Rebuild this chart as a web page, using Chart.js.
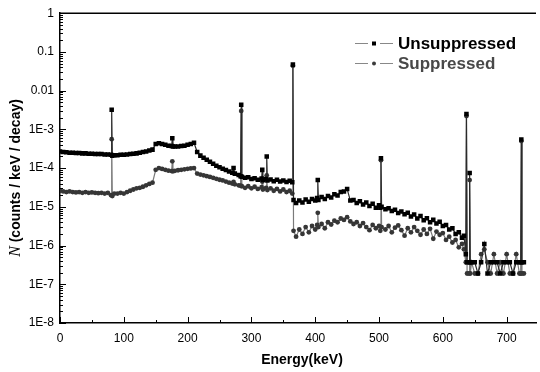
<!DOCTYPE html>
<html>
<head>
<meta charset="utf-8">
<script src="https://cdn.jsdelivr.net/npm/chart.js@4.4.1/dist/chart.umd.min.js"></script>
<style>
  html, body { margin:0; padding:0; background:#fff; }
  #wrap { width:540px; height:372px; position:relative; }
</style>
</head>
<body>
<div id="wrap"><canvas id="spec"></canvas></div>
<script>
// ---------- data ----------
const energy = [
  0,5,10,15,20,25,30,35,40,45,50,55,60,65,70,75,80,81,82,85,90,95,100,
  105,110,115,120,125,130,135,140,145,150,155,160,165,170,175,176,177,180,185,190,195,200,205,210,
  215,220,225,230,235,240,245,250,255,260,265,270,272,274,280,283,284,285,290,295,300,305,310,
  316,317,318,323,324,325,330,335,340,345,350,355,360,364,365,366,370,375,380,385,390,395,400,
  403,404,405,410,415,420,425,430,435,440,445,450,455,460,465,470,475,480,485,490,495,500,
  502,503,504,510,515,520,525,530,535,540,545,550,555,560,565,570,575,580,585,590,595,600,
  605,610,615,620,625,630,633,636,637,638,641,642,643,645,650,655,660,665,670,675,680,
  685,690,695,700,705,710,715,720,722,723,724,727
];
const unsuppressed = [
  2.7e-4,2.6e-4,2.55e-4,2.5e-4,2.5e-4,2.45e-4,2.45e-4,2.4e-4,2.4e-4,2.35e-4,2.35e-4,2.3e-4,2.3e-4,2.3e-4,2.25e-4,2.25e-4,2.2e-4,3.2e-3,2.1e-4,2.15e-4,2.15e-4,2.2e-4,2.2e-4,
  2.25e-4,2.3e-4,2.35e-4,2.4e-4,2.5e-4,2.6e-4,2.7e-4,2.85e-4,3.0e-4,4.2e-4,4.4e-4,4.2e-4,4.0e-4,3.8e-4,3.7e-4,5.9e-4,3.6e-4,3.6e-4,3.6e-4,3.7e-4,3.8e-4,4.0e-4,4.2e-4,4.5e-4,
  2.6e-4,2.1e-4,1.85e-4,1.65e-4,1.45e-4,1.3e-4,1.15e-4,1.05e-4,9.6e-5,8.9e-5,8.2e-5,7.6e-5,1.0e-4,7.2e-5,6.6e-5,6.2e-5,4.3e-3,6.0e-5,5.6e-5,5.8e-5,5.2e-5,5.5e-5,5.0e-5,
  5.4e-5,9.0e-5,4.9e-5,5.2e-5,2.0e-4,4.8e-5,5.1e-5,4.6e-5,5.0e-5,4.5e-5,4.8e-5,4.4e-5,4.7e-5,4.3e-5,4.7e-2,1.5e-5,1.25e-5,1.45e-5,1.3e-5,1.55e-5,1.35e-5,1.6e-5,1.45e-5,
  1.7e-5,4.9e-5,1.5e-5,1.8e-5,1.6e-5,1.9e-5,1.75e-5,2.1e-5,1.95e-5,2.4e-5,2.5e-5,2.9e-5,1.45e-5,1.5e-5,1.25e-5,1.4e-5,1.15e-5,1.3e-5,1.05e-5,1.2e-5,9.5e-6,1.1e-5,
  9.5e-6,1.8e-4,1.0e-5,8.6e-6,9.2e-6,7.8e-6,8.4e-6,6.9e-6,7.6e-6,6.4e-6,7.0e-6,5.6e-6,6.3e-6,5.0e-6,5.8e-6,4.5e-6,5.1e-6,4.0e-6,4.6e-6,3.7e-6,4.1e-6,3.2e-6,
  3.4e-6,2.6e-6,2.8e-6,2.0e-6,2.2e-6,1.6e-6,1.8e-6,6e-7,2.5e-3,3.7e-7,3.7e-7,7.5e-5,3.7e-7,3.7e-7,3.7e-7,1.9e-7,3.7e-7,1.1e-6,1.9e-7,3.7e-7,3.7e-7,
  3.7e-7,1.9e-7,3.7e-7,3.7e-7,3.7e-7,1.9e-7,3.7e-7,3.7e-7,3.7e-7,5.5e-4,3.7e-7,3.7e-7
];
const suppressed = [
  2.6e-5,2.5e-5,2.4e-5,2.5e-5,2.4e-5,2.35e-5,2.4e-5,2.3e-5,2.4e-5,2.3e-5,2.35e-5,2.3e-5,2.25e-5,2.3e-5,2.2e-5,2.3e-5,2.0e-5,5.6e-4,1.9e-5,2.2e-5,2.2e-5,2.3e-5,2.2e-5,
  2.4e-5,2.6e-5,2.8e-5,3.0e-5,3.1e-5,3.3e-5,3.6e-5,3.9e-5,4.2e-5,9.0e-5,1.0e-4,9.5e-5,9.0e-5,8.6e-5,8.4e-5,1.5e-4,8.3e-5,8.5e-5,8.8e-5,9.0e-5,9.3e-5,9.6e-5,9.8e-5,1.0e-4,
  7.2e-5,6.8e-5,6.5e-5,6.2e-5,5.9e-5,5.6e-5,5.3e-5,5.0e-5,4.8e-5,4.5e-5,4.2e-5,4.0e-5,4.4e-5,3.8e-5,3.6e-5,3.5e-5,3.0e-3,3.4e-5,3.1e-5,3.4e-5,3.0e-5,3.3e-5,2.9e-5,
  3.2e-5,4.5e-5,2.8e-5,3.1e-5,6.5e-5,2.7e-5,3.0e-5,2.6e-5,2.9e-5,2.5e-5,2.8e-5,2.4e-5,2.6e-5,2.2e-5,4.4e-2,2.4e-6,1.7e-6,2.6e-6,2.0e-6,3.0e-6,2.2e-6,3.2e-6,2.6e-6,
  3.4e-6,7.0e-6,3.0e-6,3.6e-6,2.8e-6,4.0e-6,3.5e-6,4.4e-6,4.0e-6,5.0e-6,4.6e-6,5.4e-6,4.2e-6,3.6e-6,4.0e-6,3.2e-6,3.8e-6,3.0e-6,2.5e-6,3.4e-6,2.8e-6,3.2e-6,
  2.4e-6,1.6e-4,3.0e-6,2.6e-6,3.2e-6,2.2e-6,2.9e-6,3.3e-6,2.5e-6,1.8e-6,2.8e-6,2.2e-6,3.0e-6,2.4e-6,1.9e-6,2.6e-6,2.0e-6,2.7e-6,1.5e-6,2.3e-6,1.9e-6,2.1e-6,
  1.4e-6,1.7e-6,1.2e-6,1.4e-6,9e-7,1.1e-6,8e-7,3.7e-7,2.2e-3,1.9e-7,1.9e-7,4.9e-5,1.9e-7,3.7e-7,1.9e-7,1.9e-7,6e-7,8e-7,3.7e-7,1.9e-7,6e-7,
  1.9e-7,3.7e-7,1.9e-7,6e-7,1.9e-7,1.9e-7,6e-7,1.9e-7,1.9e-7,5.0e-4,1.9e-7,1.9e-7
];
const xTicks = [0,100,200,300,400,500,600,700];
const xMinorTicks = [50,150,250,350,450,550,650];
const yTicks = [1e-8,1e-7,1e-6,1e-5,1e-4,1e-3,0.01,0.1,1];
const yLabels = ['1E-8','1E-7','1E-6','1E-5','1E-4','1E-3','0.01','0.1','1'];
const seriesNames = ['Unsuppressed','Suppressed'];

const FONT = '"Liberation Sans", Arial, Helvetica, sans-serif';

const pts = arr => energy.map((e, i) => ({ x: e, y: arr[i] }));

// ---------- extra drawing: frame top, ticks, titles, legend ----------
const decor = {
  id: 'decor',
  afterDraw(chart){
    const ctx = chart.ctx;
    const a = chart.chartArea;
    const xs = chart.scales.x, ys = chart.scales.y;
    ctx.save();
    ctx.strokeStyle = '#000';
    ctx.lineWidth = 1.5;
    ctx.beginPath();
    ctx.moveTo(a.left, a.top); ctx.lineTo(a.right, a.top);
    ctx.stroke();

    // ticks, pointing inwards
    ctx.lineWidth = 1;
    ctx.beginPath();
    xTicks.forEach(v => { const px = Math.round(xs.getPixelForValue(v)) + 0.5; ctx.moveTo(px, a.bottom); ctx.lineTo(px, a.bottom - 6); });
    xMinorTicks.forEach(v => { const px = Math.round(xs.getPixelForValue(v)) + 0.5; ctx.moveTo(px, a.bottom); ctx.lineTo(px, a.bottom - 3); });
    for (let d = -8; d <= 0; d++){
      const py = Math.round(ys.getPixelForValue(Math.pow(10, d))) + 0.5;
      ctx.moveTo(a.left, py); ctx.lineTo(a.left + 6, py);
      if (d < 0){
        for (let m = 2; m <= 9; m++){
          const pm = Math.round(ys.getPixelForValue(m * Math.pow(10, d))) + 0.5;
          ctx.moveTo(a.left, pm); ctx.lineTo(a.left + 3, pm);
        }
      }
    }
    ctx.stroke();

    // x title
    ctx.fillStyle = '#000';
    ctx.font = 'bold 14px ' + FONT;
    ctx.textAlign = 'center';
    ctx.textBaseline = 'middle';
    ctx.fillText('Energy(keV)', 302, 360);

    // y title: italic N + bold rest
    ctx.save();
    ctx.translate(16, 178);
    ctx.rotate(-Math.PI / 2);
    const nFont = 'italic 16px "Liberation Serif", "Times New Roman", serif';
    const restFont = 'bold 14px ' + FONT;
    const rest = ' (counts / keV / decay)';
    ctx.font = nFont; const wN = ctx.measureText('N').width;
    ctx.font = restFont; const wR = ctx.measureText(rest).width;
    let sx = -(wN + wR) / 2;
    ctx.textAlign = 'left';
    ctx.font = nFont; ctx.fillText('N', sx, 0);
    ctx.font = restFont; ctx.fillText(rest, sx + wN, 0);
    ctx.restore();

    // legend
    const rows = [
      { y: 43, text: seriesNames[0], color: '#000', marker: 'rect' },
      { y: 63, text: seriesNames[1], color: '#484848', marker: 'circle' }
    ];
    rows.forEach(r => {
      ctx.strokeStyle = '#888';
      ctx.lineWidth = 1;
      ctx.beginPath();
      ctx.moveTo(355, r.y + 0.5); ctx.lineTo(368, r.y + 0.5);
      ctx.moveTo(380, r.y + 0.5); ctx.lineTo(393, r.y + 0.5);
      ctx.stroke();
      ctx.fillStyle = r.marker === 'rect' ? '#000' : '#3c3c3c';
      if (r.marker === 'rect') ctx.fillRect(372, r.y - 1.5, 4, 4);
      else { ctx.beginPath(); ctx.arc(374, r.y + 0.5, 2, 0, Math.PI * 2); ctx.fill(); }
      ctx.fillStyle = r.color;
      ctx.font = 'bold 17px ' + FONT;
      ctx.textAlign = 'left';
      ctx.textBaseline = 'middle';
      ctx.fillText(r.text, 398, r.y + 1);
    });
    ctx.restore();
  }
};

new Chart(document.getElementById('spec'), {
  type: 'line',
  data: {
    datasets: [
      { label: seriesNames[0], data: pts(unsuppressed), borderColor: '#2a2a2a', borderWidth: 1.2,
        pointStyle: 'rect', pointRadius: 3.2, pointBorderWidth: 0, pointBackgroundColor: '#000', tension: 0 },
      { label: seriesNames[1], data: pts(suppressed), borderColor: '#7a7a7a', borderWidth: 1.2,
        pointStyle: 'circle', pointRadius: 2.4, pointBorderWidth: 0, pointBackgroundColor: '#363636', tension: 0 }
    ]
  },
  options: {
    responsive: true,
    maintainAspectRatio: false,
    animation: false,
    layout: { padding: { top: 10, right: 0, left: 0, bottom: 0 } },
    plugins: { legend: { display: false }, tooltip: { enabled: false } },
    scales: {
      x: {
        type: 'linear', min: 0, max: 746,
        afterBuildTicks: s => { s.ticks = xTicks.map(v => ({ value: v })); },
        afterFit: s => { s.height = 49; },
        grid: { display: false, drawTicks: false },
        border: { display: true, color: '#000', width: 1.5 },
        ticks: { color: '#000', font: { family: FONT, size: 12 }, padding: 8, maxRotation: 0 }
      },
      y: {
        type: 'logarithmic', min: 1e-8, max: 1,
        afterBuildTicks: s => { s.ticks = yTicks.map(v => ({ value: v })); },
        afterFit: s => { s.width = 60; },
        grid: { display: false, drawTicks: false },
        border: { display: true, color: '#000', width: 1.5 },
        ticks: { color: '#000', font: { family: FONT, size: 12 }, padding: 6,
          callback: (v, i) => yLabels[i] }
      }
    }
  },
  plugins: [decor]
});
</script>
</body>
</html>
